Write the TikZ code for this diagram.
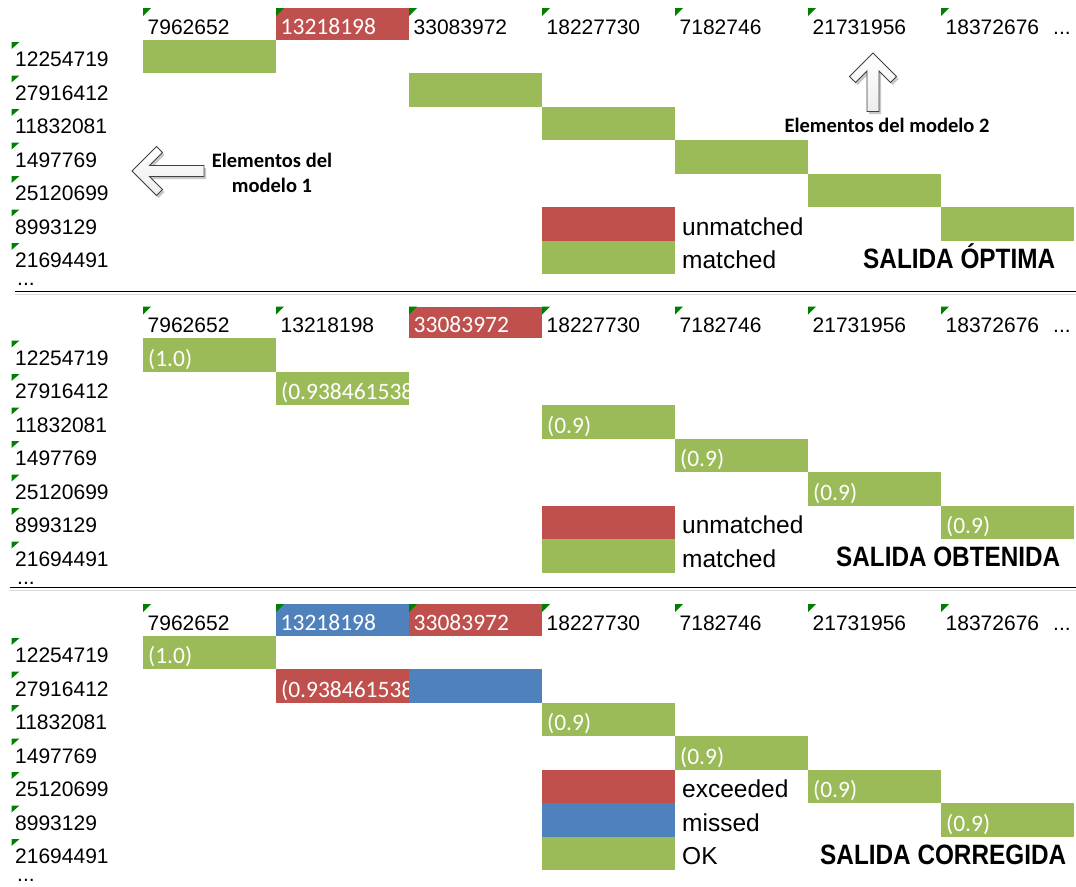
\documentclass[tikz,border=0pt]{standalone}
\usepackage{fontspec}
\usepackage{graphicx}
\setmainfont{Liberation Sans}
\newfontfamily\calib{Carlito}
\definecolor{okg}{HTML}{9BBB59}
\definecolor{badr}{HTML}{C0504D}
\definecolor{missb}{HTML}{4F81BD}
\definecolor{trig}{HTML}{008000}
\definecolor{arrline}{HTML}{404040}
\tikzset{
  cellbox/.style={anchor=north west, inner sep=0pt, outer sep=0pt, minimum width=133pt, minimum height=33.5pt, draw=none},
  hdrbox/.style={cellbox, minimum height=31.5pt},
  numtxt/.style={anchor=base west, inner sep=0pt, font=\fontsize{21}{25}\selectfont},
  dotstxt/.style={anchor=base west, inner sep=0pt, font=\fontsize{21}{8}\selectfont},
  whitetxt/.style={anchor=base west, inner sep=0pt, text=white, font=\calib\fontsize{23.5}{27}\selectfont},
  legtxt/.style={anchor=base west, inner sep=0pt, font=\fontsize{24.5}{29}\selectfont},
  titletxt/.style={anchor=base west, inner sep=0pt, font=\bfseries\fontsize{28}{32}\selectfont},
  eltxt/.style={inner sep=0pt, align=center, font=\calib\bfseries\fontsize{20.5}{25}\selectfont},
  trifill/.style={fill=trig},
  blockarrow/.style={draw=arrline, line width=0.8pt, line join=miter, top color=white, bottom color=gray!14},
  arrshadow/.style={fill=black, opacity=0.22},
  sepline/.style={line width=1.6pt, black},
  sepshade/.style={line width=1.5pt, gray!30}
}
% header label: name, x, ytop, style, text
\newcommand\hd[5]{\node[#4] (#1) at (#2+5,#3+26) {#5};
  \fill[trifill] (#2+0.5,#3) -- ++(8,0) -- ++(-8,8) -- cycle;}
% row label: name, ytop, text
\newcommand\rl[3]{\node[numtxt] (#1) at (15,#2+27) {#3};
  \fill[trifill] (11.5,#2+2.5) -- ++(8,0) -- ++(-8,7) -- cycle;}
% cell: name, x, ytop, color
\newcommand\cl[4]{\node[cellbox, fill=#4] (#1) at (#2,#3) {};}
\newcommand\hc[4]{\node[hdrbox, fill=#4] (#1) at (#2,#3) {};}
% cell text: name, x, ytop, text
\newcommand\ct[4]{\node[whitetxt] (#1) at (#2+5.5,#3+28) {#4};}
\newcommand\rowlabels[2]{%
  \rl{#1r1}{#2}{12254719}
  \rl{#1r2}{#2+33.5}{27916412}
  \rl{#1r3}{#2+67}{11832081}
  \rl{#1r4}{#2+100.5}{1497769}
  \rl{#1r5}{#2+134}{25120699}
  \rl{#1r6}{#2+167.5}{8993129}
  \rl{#1r7}{#2+201}{21694491}
  \node[dotstxt] (#1dots) at (17,#2+246) {...};}
\begin{document}
\begin{tikzpicture}[x=1pt,y=-1pt]
\useasboundingbox (0,0) rectangle (1076,886);

% ================= PANEL 1 =================
\hc{a-h2}{275.5}{8}{badr}
\cl{a-11}{142.5}{39.5}{okg}
\cl{a-23}{408.5}{73}{okg}
\cl{a-34}{541.5}{106.5}{okg}
\cl{a-45}{674.5}{140}{okg}
\cl{a-56}{807.5}{173.5}{okg}
\cl{a-64}{541.5}{207}{badr}
\cl{a-67}{940.5}{207}{okg}
\cl{a-74}{541.5}{240.5}{okg}
\hd{a-t1}{142.5}{8}{numtxt}{7962652}
\hd{a-t2}{275.5}{8}{whitetxt}{13218198}
\hd{a-t3}{408.5}{8}{numtxt}{33083972}
\hd{a-t4}{541.5}{8}{numtxt}{18227730}
\hd{a-t5}{674.5}{8}{numtxt}{7182746}
\hd{a-t6}{807.5}{8}{numtxt}{21731956}
\hd{a-t7}{940.5}{8}{numtxt}{18372676}
\node[dotstxt] (a-more) at (1053,34) {...};
\rowlabels{a-}{39.5}
\node[legtxt] (a-unm) at (682,235) {unmatched};
\node[legtxt] (a-mat) at (682,268.5) {matched};
\node[titletxt] (a-title) at (863,268) {\resizebox{192pt}{\height}{SALIDA ÓPTIMA}};

% arrows
\fill[arrshadow] (134,173.5) -- (158.5,149) -- (164.5,155) -- (151.5,168) -- (206,168) -- (206,179) -- (151.5,179) -- (164.5,192) -- (158.5,198) -- cycle;
\path[blockarrow] (132,171) -- (156.5,146.5) -- (162.5,152.5) -- (149.5,165.5) -- (204,165.5) -- (204,176.5) -- (149.5,176.5) -- (162.5,189.5) -- (156.5,195.5) -- cycle;
\node[eltxt] (el1) at (272,172.5) {Elementos del\\modelo 1};
\fill[arrshadow] (875,55.5) -- (898.5,79) -- (892.5,85) -- (881,73.5) -- (881,114) -- (869,114) -- (869,73.5) -- (857.5,85) -- (851.5,79) -- cycle;
\path[blockarrow] (873,53) -- (896.5,76.5) -- (890.5,82.5) -- (879,71) -- (879,111.5) -- (867,111.5) -- (867,71) -- (855.5,82.5) -- (849.5,76.5) -- cycle;
\node[eltxt] (el2) at (887,125) {Elementos del modelo 2};

\draw[sepline] (15,291.5) -- (1076,291.5);
\draw[sepshade] (15,294.5) -- (1076,294.5);

% ================= PANEL 2 =================
\hc{b-h3}{408.5}{306.5}{badr}
\cl{b-11}{142.5}{338}{okg}
\cl{b-22}{275.5}{371.5}{okg}
\cl{b-34}{541.5}{405}{okg}
\cl{b-45}{674.5}{438.5}{okg}
\cl{b-56}{807.5}{472}{okg}
\cl{b-64}{541.5}{505.5}{badr}
\cl{b-67}{940.5}{505.5}{okg}
\cl{b-74}{541.5}{539}{okg}
\ct{b-11t}{142.5}{338}{(1.0)}
\begin{scope}
\clip (275.5,371.5) rectangle (408.5,405);
\ct{b-22t}{275.5}{371.5}{(0.938461538}
\end{scope}
\ct{b-34t}{541.5}{405}{(0.9)}
\ct{b-45t}{674.5}{438.5}{(0.9)}
\ct{b-56t}{807.5}{472}{(0.9)}
\ct{b-67t}{940.5}{505.5}{(0.9)}
\hd{b-t1}{142.5}{306.5}{numtxt}{7962652}
\hd{b-t2}{275.5}{306.5}{numtxt}{13218198}
\hd{b-t3}{408.5}{306.5}{whitetxt}{33083972}
\hd{b-t4}{541.5}{306.5}{numtxt}{18227730}
\hd{b-t5}{674.5}{306.5}{numtxt}{7182746}
\hd{b-t6}{807.5}{306.5}{numtxt}{21731956}
\hd{b-t7}{940.5}{306.5}{numtxt}{18372676}
\node[dotstxt] (b-more) at (1053,332.5) {...};
\rowlabels{b-}{338}
\node[legtxt] (b-unm) at (682,533.5) {unmatched};
\node[legtxt] (b-mat) at (682,567) {matched};
\node[titletxt] (b-title) at (836,566) {\resizebox{224pt}{\height}{SALIDA OBTENIDA}};

\draw[sepline] (10,587.5) -- (1076,587.5);
\draw[sepshade] (10,590.5) -- (1076,590.5);

% ================= PANEL 3 =================
\hc{c-h2}{275.5}{604}{missb}
\hc{c-h3}{408.5}{604}{badr}
\cl{c-11}{142.5}{635.5}{okg}
\cl{c-22}{275.5}{669}{badr}
\cl{c-23}{408.5}{669}{missb}
\cl{c-34}{541.5}{702.5}{okg}
\cl{c-45}{674.5}{736}{okg}
\cl{c-54}{541.5}{769.5}{badr}
\cl{c-56}{807.5}{769.5}{okg}
\cl{c-64}{541.5}{803}{missb}
\cl{c-67}{940.5}{803}{okg}
\cl{c-74}{541.5}{836.5}{okg}
\ct{c-11t}{142.5}{635.5}{(1.0)}
\begin{scope}
\clip (275.5,669) rectangle (408.5,702.5);
\ct{c-22t}{275.5}{669}{(0.938461538}
\end{scope}
\ct{c-34t}{541.5}{702.5}{(0.9)}
\ct{c-45t}{674.5}{736}{(0.9)}
\ct{c-56t}{807.5}{769.5}{(0.9)}
\ct{c-67t}{940.5}{803}{(0.9)}
\hd{c-t1}{142.5}{604}{numtxt}{7962652}
\hd{c-t2}{275.5}{604}{whitetxt}{13218198}
\hd{c-t3}{408.5}{604}{whitetxt}{33083972}
\hd{c-t4}{541.5}{604}{numtxt}{18227730}
\hd{c-t5}{674.5}{604}{numtxt}{7182746}
\hd{c-t6}{807.5}{604}{numtxt}{21731956}
\hd{c-t7}{940.5}{604}{numtxt}{18372676}
\node[dotstxt] (c-more) at (1053,630) {...};
\rowlabels{c-}{635.5}
\node[legtxt] (c-exc) at (682,797.5) {exceeded};
\node[legtxt] (c-mis) at (682,831) {missed};
\node[legtxt] (c-ok) at (682,864.5) {OK};
\node[titletxt] (c-title) at (820,864) {\resizebox{246pt}{\height}{SALIDA CORREGIDA}};
\end{tikzpicture}
\end{document}
